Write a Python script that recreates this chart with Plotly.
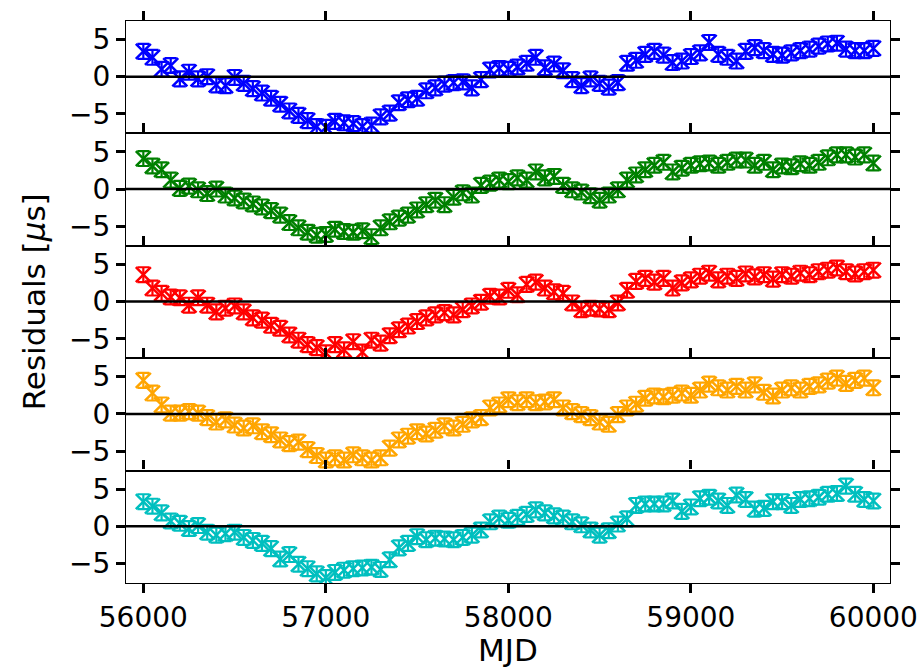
import plotly.graph_objects as go
from plotly.subplots import make_subplots

mjd = [56000, 56050, 56100, 56150, 56200, 56250, 56300, 56350, 56400, 56450,
       56500, 56550, 56600, 56650, 56700, 56750, 56800, 56850, 56900, 56950,
       57000, 57050, 57100, 57150, 57200, 57250, 57300, 57350, 57400, 57450,
       57500, 57550, 57600, 57650, 57700, 57750, 57800, 57850, 57900, 57950,
       58000, 58050, 58100, 58150, 58200, 58250, 58300, 58350, 58400, 58450,
       58500, 58550, 58600, 58650, 58700, 58750, 58800, 58850, 58900, 58950,
       59000, 59050, 59100, 59150, 59200, 59250, 59300, 59350, 59400, 59450,
       59500, 59550, 59600, 59650, 59700, 59750, 59800, 59850, 59900, 59950,
       60000]

res_blue = [3.4, 2.6, 1.0, 1.5, -0.3, 0.6, -0.3, 0.0, -1.1, -1.2,
            -0.1, -0.9, -1.6, -2.2, -2.9, -3.7, -4.6, -5.2, -5.9, -6.7,
            -6.8, -6.0, -6.2, -6.3, -6.7, -6.5, -5.4, -4.9, -3.5, -3.1,
            -2.9, -1.9, -1.5, -1.0, -0.8, -0.7, -1.5, -0.4, 0.9, 1.1,
            1.0, 1.3, 1.8, 2.6, 1.2, 1.7, 0.8, -0.4, -1.2, -0.3,
            -0.9, -1.4, -0.8, 1.8, 2.2, 3.0, 3.4, 2.9, 1.9, 2.1,
            2.7, 3.2, 4.6, 3.0, 2.6, 2.1, 3.4, 3.9, 3.5, 3.0,
            2.9, 3.2, 3.5, 3.7, 4.1, 4.4, 4.5, 3.7, 3.5, 3.5,
            3.8]

res_green = [4.1, 3.1, 2.6, 1.2, 0.1, 0.4, -0.1, -0.6, 0.0, -0.8,
             -1.2, -1.6, -2.0, -2.4, -2.9, -3.5, -4.5, -5.2, -5.8, -6.2,
             -6.1, -5.4, -5.7, -5.8, -5.6, -6.4, -5.2, -4.4, -3.9, -3.5,
             -2.8, -2.1, -1.5, -2.1, -1.1, -0.5, -0.8, 0.5, 0.8, 1.2,
             1.0, 1.5, 1.2, 2.3, 1.5, 1.7, 0.5, -0.1, -0.4, -0.9,
             -1.5, -0.8, -0.1, 1.2, 1.9, 2.6, 3.2, 3.6, 2.3, 2.8,
             3.2, 3.4, 3.5, 3.2, 3.6, 3.9, 3.9, 3.2, 3.6, 2.6,
             3.1, 3.0, 3.4, 3.2, 3.6, 4.2, 4.6, 4.6, 4.3, 4.6,
             3.5]

res_red = [3.6, 1.8, 1.1, 0.6, 0.5, -0.5, 0.5, -0.5, -1.4, -0.9,
           -0.6, -1.4, -2.2, -2.5, -3.2, -3.6, -4.5, -5.2, -5.8, -6.2,
           -6.9, -5.8, -6.5, -5.4, -6.8, -5.2, -5.6, -4.6, -3.8, -3.3,
           -2.7, -2.2, -1.8, -1.5, -1.8, -1.1, -0.6, -0.1, 0.7, 0.6,
           1.5, 0.9, 2.3, 2.6, 1.8, 1.3, 1.1, -0.2, -1.1, -0.9,
           -1.0, -1.1, -0.2, 1.5, 2.7, 3.1, 2.6, 3.1, 1.8, 2.5,
           2.9, 3.4, 3.8, 2.9, 3.4, 3.1, 3.7, 3.3, 3.6, 3.0,
           3.6, 3.4, 3.8, 3.6, 4.0, 4.2, 4.5, 4.0, 3.7, 4.0,
           4.2]

res_orange = [4.5, 2.8, 1.2, 0.1, 0.1, 0.3, 0.1, -0.5, -1.1, -0.8,
              -1.5, -1.9, -1.6, -2.4, -2.8, -3.5, -4.0, -3.8, -4.8, -5.6,
              -6.2, -5.9, -6.2, -5.5, -5.9, -6.2, -5.9, -4.6, -3.5, -3.0,
              -2.4, -2.7, -2.2, -1.6, -1.9, -1.4, -0.8, -0.5, 0.8, 1.2,
              1.9, 1.5, 1.9, 1.5, 1.6, 1.9, 0.8, 0.3, -0.1, -0.5,
              -1.1, -1.4, -0.1, 0.8, 1.3, 2.1, 2.4, 2.3, 2.5, 2.8,
              2.5, 3.2, 4.0, 3.5, 3.2, 3.7, 3.2, 3.9, 2.9, 2.4,
              3.2, 3.5, 3.2, 3.7, 3.9, 4.4, 4.8, 4.1, 4.5, 4.8,
              3.5]

res_cyan = [3.3, 2.7, 1.8, 0.7, 0.4, -0.3, 0.1, -0.8, -1.2, -1.0,
            -0.8, -1.5, -1.9, -2.3, -3.0, -4.4, -3.8, -5.1, -5.7, -6.4,
            -6.9, -6.2, -5.9, -5.7, -5.6, -5.5, -5.8, -4.5, -2.9, -2.3,
            -1.4, -1.8, -1.6, -1.7, -1.8, -1.5, -1.2, -0.5, 0.6, 1.1,
            0.8, 1.2, 1.6, 2.2, 1.8, 1.4, 1.1, 0.6, 0.2, -0.5,
            -1.2, -0.6, 0.3, 1.0, 2.8, 3.0, 3.0, 3.0, 3.4, 2.0,
            2.6, 3.7, 3.9, 3.4, 2.8, 4.2, 3.6, 2.3, 2.4, 3.3,
            3.3, 2.8, 3.6, 3.7, 3.9, 4.3, 4.4, 5.4, 4.3, 3.6,
            3.4]

uncertainty = 1.0  # microseconds, error bar half-length
series = [res_blue, res_green, res_red, res_orange, res_cyan]
colors = ["#0000ff", "#008000", "#ff0000", "#ffa500", "#00bfbf"]
for s in series:
    assert len(s) == len(mjd)

y_ticks = [-5, 0, 5]
x_ticks = [56000, 57000, 58000, 59000, 60000]
x_tick_labels = ["56000", "57000", "58000", "59000", "60000"]

fig = make_subplots(rows=5, cols=1, shared_xaxes=False, vertical_spacing=0)

for i, (vals, col) in enumerate(zip(series, colors)):
    fig.add_trace(go.Scatter(
        x=mjd, y=vals, mode="markers",
        marker=dict(symbol="x-thin", size=15, color=col,
                    line=dict(color=col, width=2.5)),
        error_y=dict(type="constant", value=uncertainty, color=col,
                     thickness=2.2, width=6),
        showlegend=False,
    ), row=i + 1, col=1)

FONT = "DejaVu Sans"
n = len(series)
for i in range(n):
    r = i + 1
    last = (r == n)
    fig.update_xaxes(
        row=r, col=1,
        range=[55905, 60091], tickvals=x_ticks, ticktext=x_tick_labels,
        ticks="outside", ticklen=9, tickwidth=2.5, tickcolor="black",
        showline=True, linecolor="black", linewidth=1.3,
        mirror="ticks" if last else True,
        side="bottom" if last else "top",
        showticklabels=last, showgrid=False, zeroline=False,
        automargin=False,
        tickfont=dict(family=FONT, size=28, color="black"),
    )
    fig.update_yaxes(
        row=r, col=1,
        range=[-7.62, 7.48], tickvals=y_ticks,
        ticks="outside", ticklen=9, tickwidth=2.5, tickcolor="black",
        showline=True, linecolor="black", linewidth=1.3, mirror="ticks",
        showgrid=False, zeroline=False, automargin=False,
        tickfont=dict(family=FONT, size=28, color="black"),
    )
    xr = "x" if r == 1 else f"x{r}"
    yr = "y" if r == 1 else f"y{r}"
    fig.add_shape(type="line", xref=f"{xr} domain", yref=yr,
                  x0=0, x1=1, y0=0, y1=0, layer="above",
                  line=dict(color="black", width=2.5))

fig.add_annotation(text="Residuals [<i>μ</i>s]", xref="paper", yref="paper",
                   x=-0.12, y=0.5, xanchor="center", yanchor="middle",
                   textangle=-90, showarrow=False,
                   font=dict(family=FONT, size=31, color="black"))
fig.add_annotation(text="MJD", xref="paper", yref="paper",
                   x=0.5, y=-0.119, xanchor="center", yanchor="middle",
                   showarrow=False,
                   font=dict(family=FONT, size=31, color="black"))

fig.update_layout(
    width=918, height=667,
    margin=dict(l=126, r=28, t=21, b=84),
    paper_bgcolor="white", plot_bgcolor="white",
)

fig.write_html("out.html")
